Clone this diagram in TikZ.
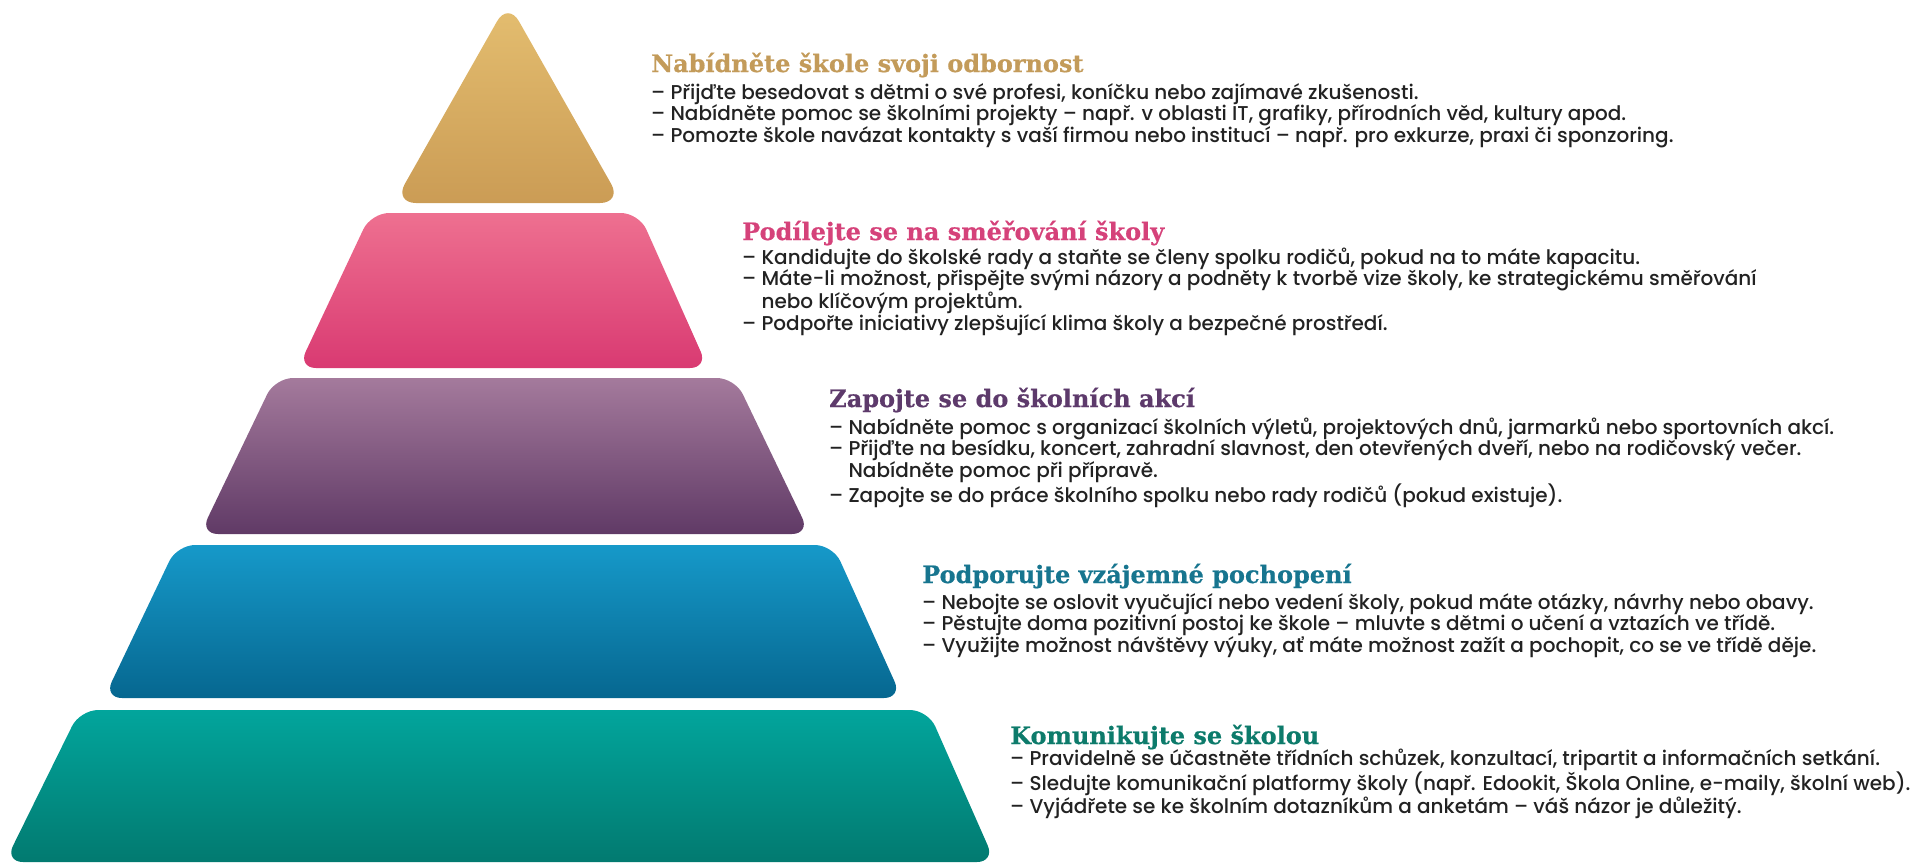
\documentclass[tikz,border=0pt]{standalone}
\usepackage{fontspec}
\setmainfont{Poppins Medium}
\newfontfamily\slabfont{DejaVu Serif}[BoldFeatures={FakeBold=0.6}]
\usepackage{tikz}

\definecolor{goldtop}{HTML}{E4BE70}
\definecolor{goldbot}{HTML}{CB9C55}
\definecolor{pinktop}{HTML}{EE7090}
\definecolor{pinkbot}{HTML}{D93A72}
\definecolor{violettop}{HTML}{A47A9C}
\definecolor{violetbot}{HTML}{603A66}
\definecolor{bluetop}{HTML}{1699C9}
\definecolor{bluebot}{HTML}{066790}
\definecolor{tealtop}{HTML}{02A59C}
\definecolor{tealbot}{HTML}{027A70}
\definecolor{goldtitle}{HTML}{C39B5A}
\definecolor{pinktitle}{HTML}{D5427A}
\definecolor{violettitle}{HTML}{5D3A6B}
\definecolor{bluetitle}{HTML}{17758F}
\definecolor{tealtitle}{HTML}{0D7B6B}
\definecolor{listgray}{HTML}{222222}

\begin{document}
\begin{tikzpicture}[x=1pt, y=-1pt]
        % Setup the styles for the tiers and the texts
        \tikzset{tier/.style={rounded corners=18pt},
                 title style/.style={anchor=base west, inner sep=0pt,
                                     font=\slabfont\bfseries\fontsize{24}{28}\selectfont},
                 list style/.style={anchor=base west, inner sep=0pt, align=left,
                                    text=listgray,
                                    font=\fontsize{20}{21.5}\selectfont}}
        \useasboundingbox (0,0) rectangle (1921,865);

        % Draw the tiers
        \shade[tier, rounded corners=22pt, top color=goldtop, bottom color=goldbot]
            (508,2) -- (622,203) -- (394,203) -- cycle;
        \shade[tier, top color=pinktop, bottom color=pinkbot]
            (371,213) -- (639,213) -- (708,368) -- (298,368) -- cycle;
        \shade[tier, top color=violettop, bottom color=violetbot]
            (275,378) -- (735,378) -- (810,534) -- (200,534) -- cycle;
        \shade[tier, top color=bluetop, bottom color=bluebot]
            (177,545) -- (833,545) -- (902,698) -- (104,698) -- cycle;
        \shade[tier, top color=tealtop, bottom color=tealbot]
            (80,710) -- (928,710) -- (995,862) -- (5,862) -- cycle;

        % Put the texts (the lists sit on the baseline of their last line)
        \node[title style, text=goldtitle] at (651,72) (odbornost) {Nabídněte škole svoji odbornost};
        \node[list style] at (651,142) (odbornostlist)
            {– Přijďte besedovat s dětmi o své profesi, koníčku nebo zajímavé zkušenosti.\\
             – Nabídněte pomoc se školními projekty – např. v oblasti IT, grafiky, přírodních věd, kultury apod.\\
             – Pomozte škole navázat kontakty s vaší firmou nebo institucí – např. pro exkurze, praxi či sponzoring.};

        \node[title style, text=pinktitle] at (742,240) (smerovani) {Podílejte se na směřování školy};
        \node[list style] at (742,330) (smerovanilist)
            {– Kandidujte do školské rady a staňte se členy spolku rodičů, pokud na to máte kapacitu.\\
             – Máte-li možnost, přispějte svými názory a podněty k tvorbě vize školy, ke strategickému směřování\\
             \hphantom{– }nebo klíčovým projektům.\\
             – Podpořte iniciativy zlepšující klima školy a bezpečné prostředí.};

        \node[title style, text=violettitle] at (829,407) (akce) {Zapojte se do školních akcí};
        \node[list style] at (829,502) (akcelist)
            {– Nabídněte pomoc s organizací školních výletů, projektových dnů, jarmarků nebo sportovních akcí.\\
             – Přijďte na besídku, koncert, zahradní slavnost, den otevřených dveří, nebo na rodičovský večer.\\
             \hphantom{– }Nabídněte pomoc při přípravě.\\
             – Zapojte se do práce školního spolku nebo rady rodičů (pokud existuje).};

        \node[title style, text=bluetitle] at (922,583) (pochopeni) {Podporujte vzájemné pochopení};
        \node[list style] at (922,652) (pochopenilist)
            {– Nebojte se oslovit vyučující nebo vedení školy, pokud máte otázky, návrhy nebo obavy.\\
             – Pěstujte doma pozitivní postoj ke škole – mluvte s dětmi o učení a vztazích ve třídě.\\
             – Využijte možnost návštěvy výuky, ať máte možnost zažít a pochopit, co se ve třídě děje.};

        \node[title style, text=tealtitle] at (1010,744) (komunikace) {Komunikujte se školou};
        \node[list style] at (1010,813) (komunikacelist)
            {– Pravidelně se účastněte třídních schůzek, konzultací, tripartit a informačních setkání.\\
             – Sledujte komunikační platformy školy (např. Edookit, Škola Online, e-maily, školní web).\\
             – Vyjádřete se ke školním dotazníkům a anketám – váš názor je důležitý.};
\end{tikzpicture}
\end{document}
